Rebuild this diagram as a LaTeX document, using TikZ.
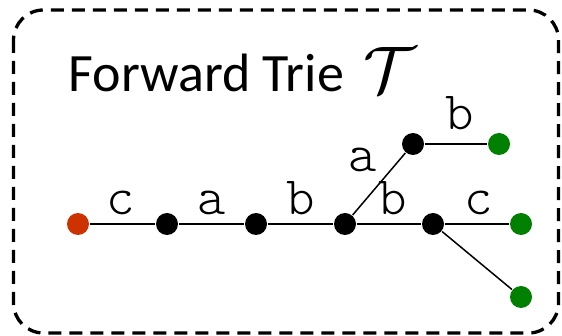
\documentclass[tikz,border=0pt]{standalone}
\usepackage{amsmath,amssymb,graphicx}
\usepackage{fontspec}
\usepackage{tikz}
\newfontfamily\titlefont{Carlito}
\newfontfamily\edgefont[Extension=.otf]{lmmonolt10-regular}
\definecolor{rootred}{RGB}{204,51,0}
\definecolor{leafgreen}{RGB}{0,128,0}

\begin{document}
\begin{tikzpicture}[x=1pt,y=-1pt,
     vtx/.style={circle,fill=black,inner sep=0pt,minimum size=22pt},
     lab/.style={anchor=base,font=\edgefont\fontsize{54}{54}\selectfont,inner sep=0pt},
     every path/.style={line width=1.5pt}]
        \useasboundingbox (0,0) rectangle (562,336);
        \draw[line width=3.3pt,dash pattern=on 13pt off 8pt,rounded corners=30pt] (13.5,10) rectangle (558.5,333);
        \node[anchor=base west,inner sep=0pt] (title) at (68,92) {\titlefont\fontsize{54}{54}\selectfont Forward Trie\hspace{20pt}\raisebox{-1pt}{\resizebox{!}{45pt}{$\mathcal{T}$}}};
          \node[vtx,fill=rootred] (r) at (78,224) {};
          \node[vtx] (n1) at (167,224) {};
          \node[vtx] (n2) at (256,224) {};
          \node[vtx] (n3) at (345,224) {};
          \node[vtx] (n4) at (433,224) {};
          \node[vtx] (n5) at (413,144) {};
          \node[vtx,fill=leafgreen] (l1) at (499,144) {};
          \node[vtx,fill=leafgreen] (l2) at (521,224) {};
          \node[vtx,fill=leafgreen] (l3) at (521,297) {};
             \draw (r) -- node[lab,yshift=9pt,xshift=-1.5pt] {c} (n1);
             \draw (n1) -- node[lab,yshift=9pt] {a} (n2);
             \draw (n2) -- node[lab,yshift=9pt] {b} (n3);
             \draw (n3) -- node[lab,yshift=9pt,xshift=4pt] {b} (n4);
             \draw (n4) -- node[lab,yshift=9pt,xshift=2pt] {c} (l2);
             \draw (n3) -- node[lab,xshift=-16pt,yshift=12pt] {a} (n5);
             \draw (n5) -- node[lab,yshift=14pt,xshift=4pt] {b} (l1);
             \draw (n4) -- (l3);
\end{tikzpicture}
\end{document}
